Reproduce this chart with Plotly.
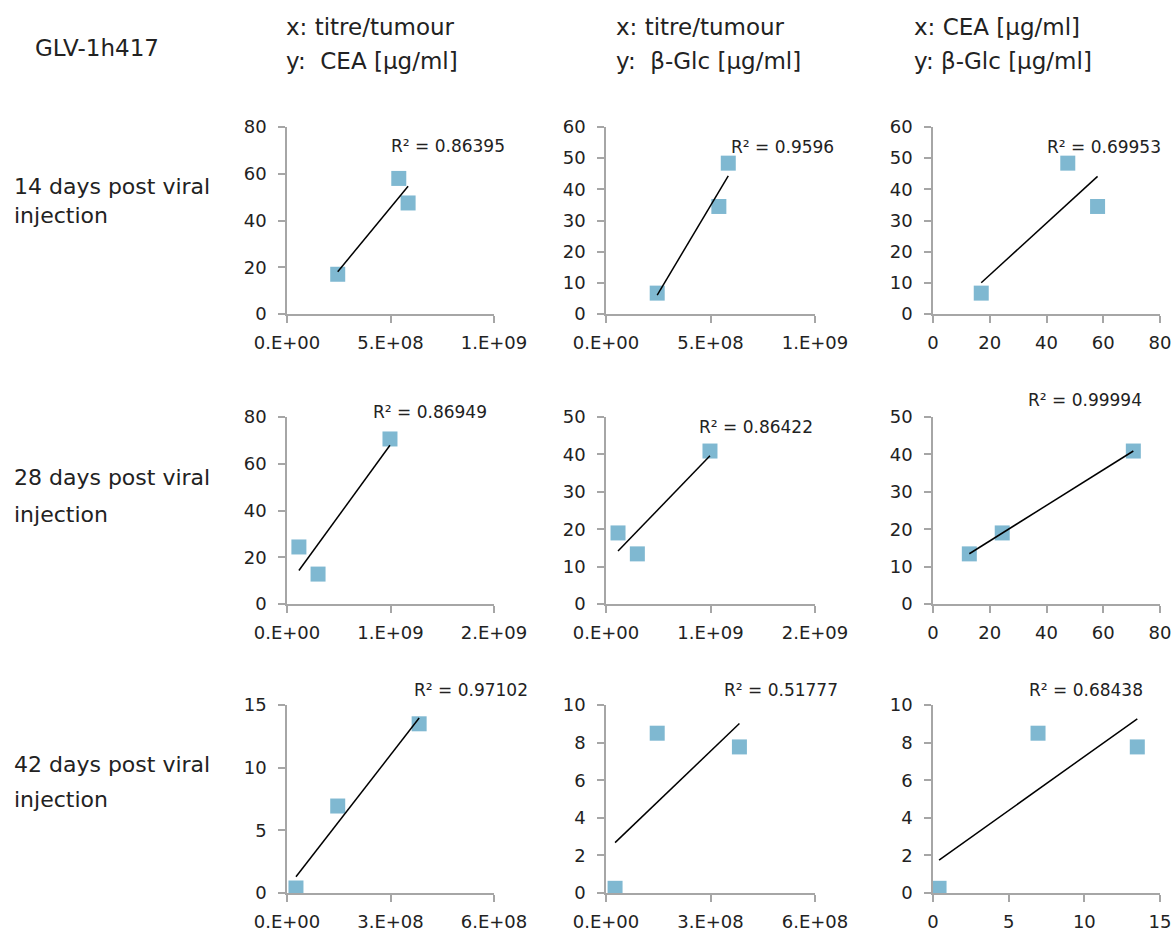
import numpy as np
import plotly.graph_objects as go

W, H = 1173, 933

# Measurements per time point (three tumours each)
titre_d14 = [2.45e8, 5.40e8, 5.85e8]
cea_d14 = [17.0, 58.0, 47.5]
glc_d14 = [6.7, 34.5, 48.4]

titre_d28 = [1.15e8, 3.0e8, 9.95e8]
cea_d28 = [24.4, 12.8, 70.6]
glc_d28 = [19.0, 13.4, 40.9]

titre_d42 = [2.6e7, 1.47e8, 3.83e8]
cea_d42 = [0.4, 6.94, 13.5]
glc_d42 = [0.25, 8.5, 7.77]

r2_d14 = ["0.86395", "0.9596", "0.69953"]
r2_d28 = ["0.86949", "0.86422", "0.99994"]
r2_d42 = ["0.97102", "0.51777", "0.68438"]

row_labels = [("14 days post viral", "injection"),
              ("28 days post viral", "injection"),
              ("42 days post viral", "injection")]
col_headers = [("x: titre/tumour", "y:  CEA [µg/ml]"),
               ("x: titre/tumour", "y:  β-Glc [µg/ml]"),
               ("x: CEA [µg/ml]", "y: β-Glc [µg/ml]")]
strain = "GLV-1h417"

# Tick values and labels per time point
titre_ticks_d14 = [0, 5e8, 1e9]
titre_labels_d14 = ["0.E+00", "5.E+08", "1.E+09"]
titre_ticks_d28 = [0, 1e9, 2e9]
titre_labels_d28 = ["0.E+00", "1.E+09", "2.E+09"]
titre_ticks_d42 = [0, 3e8, 6e8]
titre_labels_d42 = ["0.E+00", "3.E+08", "6.E+08"]
cea_ticks_d14 = [0, 20, 40, 60, 80]
cea_ticks_d28 = [0, 20, 40, 60, 80]
cea_ticks_d42 = [0, 5, 10, 15]
glc_ticks_d14 = [0, 10, 20, 30, 40, 50, 60]
glc_ticks_d28 = [0, 10, 20, 30, 40, 50]
glc_ticks_d42 = [0, 2, 4, 6, 8, 10]

rows = [
    dict(t=titre_d14, c=cea_d14, g=glc_d14, r2=r2_d14, tt=titre_ticks_d14, tl=titre_labels_d14,
         ct=cea_ticks_d14, gt=glc_ticks_d14),
    dict(t=titre_d28, c=cea_d28, g=glc_d28, r2=r2_d28, tt=titre_ticks_d28, tl=titre_labels_d28,
         ct=cea_ticks_d28, gt=glc_ticks_d28),
    dict(t=titre_d42, c=cea_d42, g=glc_d42, r2=r2_d42, tt=titre_ticks_d42, tl=titre_labels_d42,
         ct=cea_ticks_d42, gt=glc_ticks_d42),
]

# Plot-area pixel boxes
col_x = [(287, 494), (606, 815), (933, 1160)]
row_y = [(127, 314), (417, 604), (705, 893)]
r2_pos = [[(389, 146), (729, 147), (1045, 147)],
          [(371, 412), (697, 427), (1026, 400)],
          [(412, 690), (722, 690), (1027, 690)]]

FONT = "DejaVu Sans"
TXT = "#222222"
AXC = "#a6a6a6"
MARK = "#7fb8d1"

fig = go.Figure()
layout = {}
annotations = []


def fx(px):
    return px / W


def fy(py):
    return 1 - py / H


def label(px, py, text, size):
    annotations.append(dict(x=fx(px), y=fy(py), xref="paper", yref="paper",
                            xanchor="left", yanchor="middle", showarrow=False,
                            text=text, font=dict(family=FONT, size=size, color=TXT)))


k = 0
for ri, r in enumerate(rows):
    panels = [
        (r["t"], r["c"], r["tt"], r["tl"], r["ct"]),
        (r["t"], r["g"], r["tt"], r["tl"], r["gt"]),
        (r["c"], r["g"], r["ct"], [str(v) for v in r["ct"]], r["gt"]),
    ]
    for ci, (xs, ys, xt, xl, yt) in enumerate(panels):
        k += 1
        xa = "x" if k == 1 else f"x{k}"
        ya = "y" if k == 1 else f"y{k}"
        fig.add_trace(go.Scatter(
            x=xs, y=ys, mode="markers", xaxis=xa, yaxis=ya,
            marker=dict(symbol="square", size=15, color=MARK),
            showlegend=False, hoverinfo="x+y"))
        # linear least-squares trendline over the data span
        slope, icpt = np.polyfit(xs, ys, 1)
        lx = [min(xs), max(xs)]
        fig.add_trace(go.Scatter(
            x=lx, y=[slope * v + icpt for v in lx], mode="lines",
            xaxis=xa, yaxis=ya, line=dict(color="black", width=1.5),
            showlegend=False, hoverinfo="skip"))
        x0, x1 = col_x[ci]
        y0, y1 = row_y[ri]
        common = dict(showgrid=False, zeroline=False, showline=True, automargin=False,
                      linecolor=AXC, linewidth=1.5, ticks="outside",
                      tickcolor=AXC, ticklen=7, tickwidth=1.5,
                      tickfont=dict(family=FONT, size=18, color=TXT))
        layout["xaxis" if k == 1 else f"xaxis{k}"] = dict(
            domain=[fx(x0), fx(x1)], anchor=ya, range=[xt[0], xt[-1]],
            tickvals=xt, ticktext=xl, ticklabelstandoff=5, **common)
        layout["yaxis" if k == 1 else f"yaxis{k}"] = dict(
            domain=[fy(y1), fy(y0)], anchor=xa, range=[yt[0], yt[-1]],
            tickvals=yt, ticklabelstandoff=8, **common)
        px_, py_ = r2_pos[ri][ci]
        label(px_, py_, f"R² = {r['r2'][ci]}", 17)

# Column headers
head_x = [284, 614, 912]
for ci, (l1, l2) in enumerate(col_headers):
    label(head_x[ci], 27, l1, 23)
    label(head_x[ci], 61, l2, 23)

label(33, 48, strain, 23)

# Row labels
row_ly = [(186, 215), (478, 514), (764, 799)]
for ri, (l1, l2) in enumerate(row_labels):
    label(12, row_ly[ri][0], l1, 22)
    label(12, row_ly[ri][1], l2, 22)

fig.update_layout(**layout)
fig.update_layout(width=W, height=H, margin=dict(l=0, r=0, t=0, b=0),
                  paper_bgcolor="white", plot_bgcolor="white",
                  annotations=annotations, showlegend=False)

fig.write_html("out.html")
